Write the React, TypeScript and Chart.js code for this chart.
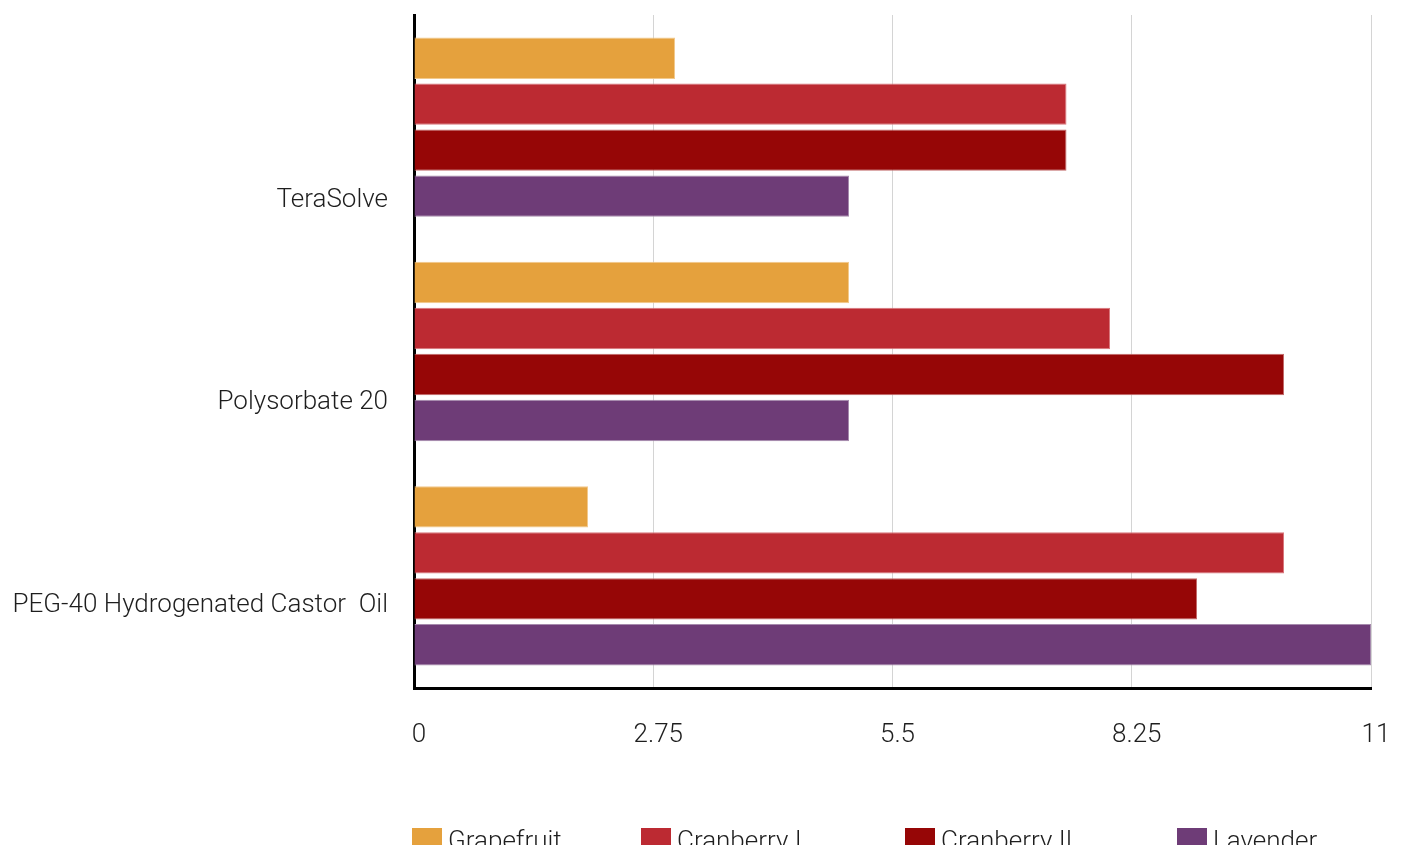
import React, { useEffect, useRef } from "react";
import { Chart, registerables } from "chart.js";

Chart.register(...registerables);

const categories = ["TeraSolve", "Polysorbate 20", "PEG-40 Hydrogenated Castor  Oil"];
const seriesNames = ["Grapefruit", "Cranberry I", "Cranberry II", "Lavender"];
const grapefruit = [3, 5, 2];
const cranberryI = [7.5, 8, 10];
const cranberryII = [7.5, 10, 9];
const lavender = [5, 5, 11];
const xTicks = [0, 2.75, 5.5, 8.25, 11];
const seriesColors = ["#E5A13D", "#BC2A32", "#960606", "#6E3C77"];
const seriesBorders = ["#F2C98C", "#D9777C", "#C26A6A", "#A68AAD"];

const FONT = "Roboto, 'Liberation Sans', sans-serif";
const TEXT = "#1e1e1e";

const zeroPadding = (axis: any) => {
  axis.paddingLeft = 0;
  axis.paddingRight = 0;
  axis.paddingTop = 0;
  axis.paddingBottom = 0;
};

export default function App() {
  const ref = useRef<HTMLCanvasElement | null>(null);

  useEffect(() => {
    document.documentElement.style.overflow = "hidden";
    const values = [grapefruit, cranberryI, cranberryII, lavender];
    const chart = new Chart(ref.current as HTMLCanvasElement, {
      type: "bar",
      data: {
        labels: categories,
        datasets: seriesNames.map((name, i) => ({
          label: name,
          data: values[i],
          backgroundColor: seriesColors[i],
          borderColor: seriesBorders[i],
          borderWidth: 1,
          categoryPercentage: 0.82,
          barPercentage: 0.9,
          xAxisID: "x",
          yAxisID: "y",
        })),
      },
      options: {
        indexAxis: "y",
        animation: false,
        responsive: true,
        maintainAspectRatio: false,
        layout: { padding: { left: 0, right: 23, top: 7, bottom: 0 } },
        plugins: {
          legend: { display: false },
          tooltip: { enabled: false },
        },
        scales: {
          x: {
            type: "linear",
            position: "bottom",
            min: 0,
            max: 11,
            afterBuildTicks: (axis: any) => {
              axis.ticks = xTicks.map((v) => ({ value: v }));
            },
            afterFit: (axis: any) => {
              axis.height = 157;
              zeroPadding(axis);
            },
            grid: { color: "#d4d4d4", lineWidth: 1, drawTicks: false },
            border: { display: true, color: "#000000", width: 3 },
            ticks: {
              padding: 32,
              labelOffset: 5,
              maxRotation: 0,
              autoSkip: false,
              color: TEXT,
              font: { family: FONT, size: 26, weight: "300" as any },
              callback: (v: any) => String(v),
            },
          },
          y: {
            type: "category",
            display: false,
          },
          y2: {
            type: "linear",
            position: "left",
            reverse: true,
            offset: false,
            min: -0.9114,
            max: 2.404,
            z: 1,
            afterBuildTicks: (axis: any) => {
              axis.ticks = categories.map((_, i) => ({ value: i }));
            },
            afterFit: (axis: any) => {
              axis.width = 406;
              zeroPadding(axis);
            },
            grid: { display: false, drawTicks: false, offset: false },
            border: { display: true, color: "#000000", width: 3 },
            ticks: {
              padding: 26,
              autoSkip: false,
              color: TEXT,
              font: { family: FONT, size: 26, weight: "300" as any },
              callback: (v: any) => categories[v as number] ?? "",
            },
          },
        },
      },
    });
    return () => chart.destroy();
  }, []);

  const itemWidths = [229, 264, 272, 220];

  return (
    <div style={{ position: "relative", width: 1386, height: 837 }}>
      <canvas ref={ref} />
      <div
        style={{
          position: "absolute",
          left: 404,
          top: 820,
          height: 25,
          overflow: "hidden",
          display: "flex",
          alignItems: "flex-start",
          fontFamily: FONT,
          fontWeight: 300,
          fontSize: 26,
          lineHeight: "28px",
          color: TEXT,
          whiteSpace: "nowrap",
        }}
      >
        {seriesNames.map((name, i) => (
          <div key={name} style={{ display: "flex", width: itemWidths[i] }}>
            <span
              style={{
                display: "inline-block",
                width: 30,
                height: 28,
                background: seriesColors[i],
                marginRight: 6,
              }}
            />
            <span style={{ position: "relative", top: -2 }}>{name}</span>
          </div>
        ))}
      </div>
    </div>
  );
}
